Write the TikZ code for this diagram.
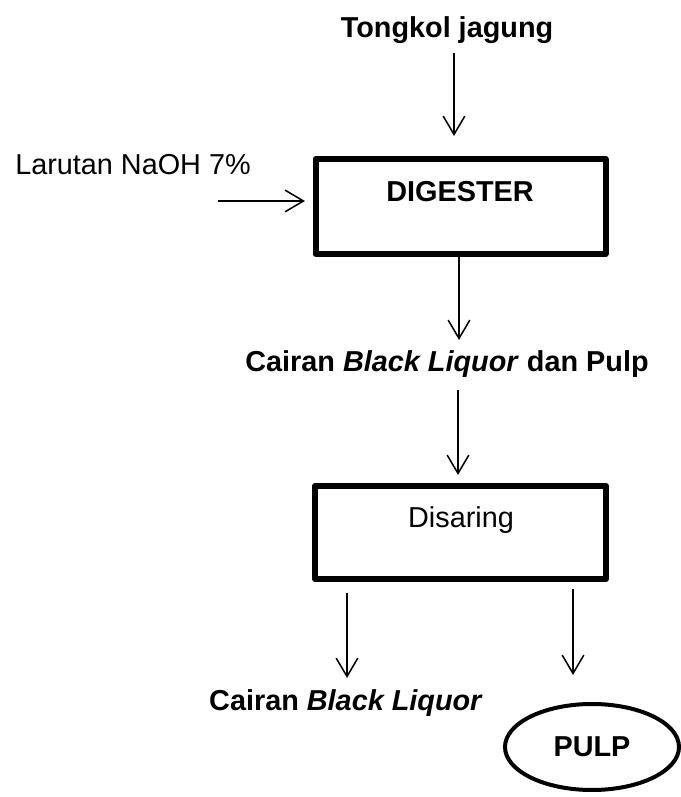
\documentclass[tikz,border=0pt]{standalone}
\usepackage{fontspec}
\setmainfont{Liberation Sans}
\usetikzlibrary{calc,arrows.meta,shapes.geometric}
\tikzset{
	proc/.style={draw, line width=0.15cm, rectangle, line join=round, inner sep=0pt},
	txt/.style={font=\fontsize{20.5}{24}\selectfont, inner sep=0pt},
	btxt/.style={txt, font=\fontsize{20.5}{24}\selectfont\bfseries},
	flow/.style={line width=0.038cm, -{Straight Barb[length=0.46cm, width=0.54cm, line width=0.038cm]}}
}

\begin{document}
\begin{tikzpicture}
		%%%%% START %%%%%
		\useasboundingbox (0, 0) rectangle (17, 19.925);
		
		\node[btxt] (tongkol) at (11.175, 19.175) {Tongkol jagung};
		\coordinate (tongkolA) at (11.35, 18.6);
		\coordinate (tongkolB) at (11.35, 16.525);
		\draw[flow] (tongkolA) -- (tongkolB);
		
		\node[txt, anchor=west] (naoh) at (0.375, 15.8) {Larutan NaOH 7\%};
		\coordinate (naohA) at (5.45, 14.9);
		\coordinate (naohB) at (7.625, 14.9);
		\draw[flow] (naohA) -- (naohB);
		
		\node[proc, minimum width=7.25cm, minimum height=2.375cm] (digester) at (11.5125, 14.7625) {};
		\node[btxt] (digtext) at (11.5, 15.125) {DIGESTER};
		\coordinate (digB) at (11.475, 11.425);
		\draw[flow] (digester.south -| digB) -- (digB);
		
		\node[btxt] (campuran) at (11.175, 10.825) {Cairan \textit{Black Liquor} dan Pulp};
		\coordinate (campA) at (11.45, 10.175);
		\coordinate (campB) at (11.45, 8.05);
		\draw[flow] (campA) -- (campB);
		
		\node[proc, minimum width=7.275cm, minimum height=2.325cm] (saring) at (11.5125, 6.6125) {};
		\node[txt] (sartext) at (11.525, 6.925) {Disaring};
		
		\coordinate (kiriA) at (8.675, 5.1);
		\coordinate (kiriB) at (8.675, 2.975);
		\draw[flow] (kiriA) -- (kiriB);
		\node[btxt] (liquor) at (8.65, 2.35) {Cairan \textit{Black Liquor}};
		
		\coordinate (kananA) at (14.325, 5.2);
		\coordinate (kananB) at (14.325, 3.05);
		\draw[flow] (kananA) -- (kananB);
		\node[btxt, draw, ellipse, line width=0.1cm, minimum width=4.35cm, minimum height=2.15cm] (pulp) at (14.8, 1.25) {PULP};
		%%%%% END %%%%%
	\end{tikzpicture}
\end{document}
